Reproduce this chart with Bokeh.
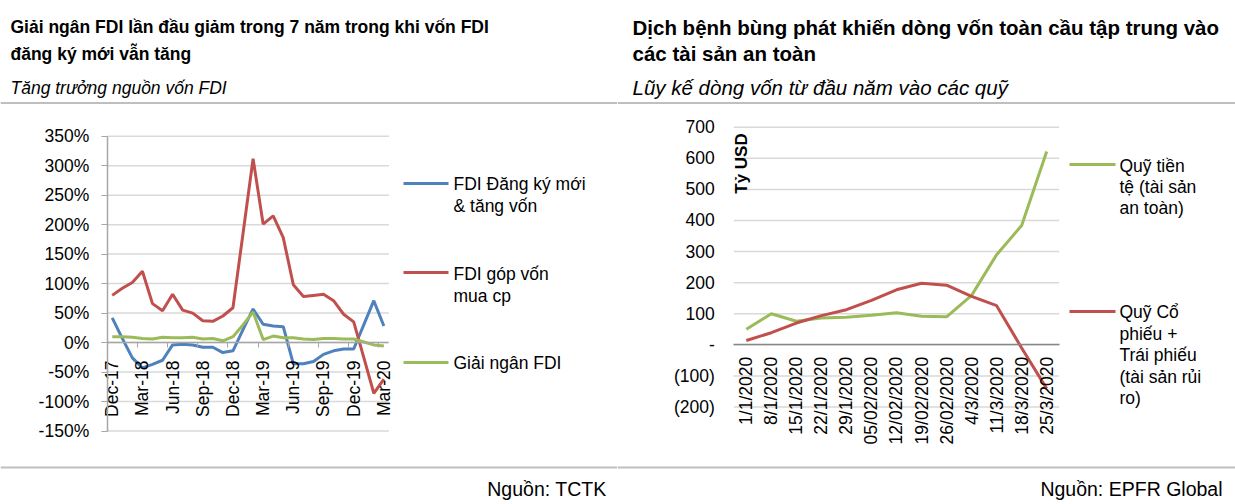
import math
from bokeh.plotting import figure
from bokeh.layouts import row
from bokeh.models import FixedTicker, Label, BoxAnnotation, PolyAnnotation
from bokeh.embed import file_html
from bokeh.resources import INLINE

FONT = "Liberation Sans"
BLUE, RED, GREEN = "#4F81BD", "#C0504D", "#9BBB59"

# left chart: monthly growth, Dec-17 .. Mar-20 (%)
months = ["Dec-17", "Jan-18", "Feb-18", "Mar-18", "Apr-18", "May-18", "Jun-18",
          "Jul-18", "Aug-18", "Sep-18", "Oct-18", "Nov-18", "Dec-18", "Jan-19",
          "Feb-19", "Mar-19", "Apr-19", "May-19", "Jun-19", "Jul-19", "Aug-19",
          "Sep-19", "Oct-19", "Nov-19", "Dec-19", "Jan-20", "Feb-20", "Mar-20"]
fdi_dang_ky = [42, 7, -26, -43, -37, -30, -4, -3, -4, -8, -8, -17, -14, 22,
               57, 31, 28, 27, -36, -36, -32, -20, -14, -11, -11, 30, 71, 28]
fdi_gop_von = [80, 92, 102, 121, 66, 54, 82, 55, 50, 37, 36, 45, 59, 185,
               312, 201, 215, 178, 98, 78, 80, 82, 71, 48, 35, -25, -86, -62]
giai_ngan = [10, 10, 9, 7, 6, 9, 8, 8, 9, 6, 7, 3, 10, 30,
             52, 5, 11, 8, 8, 6, 5, 7, 7, 6, 6, 1, -4, -6]
pct_ticks = [-150, -100, -50, 0, 50, 100, 150, 200, 250, 300, 350]

# right chart: cumulative flows since start of year (bn USD)
dates = ["1/1/2020", "8/1/2020", "15/1/2020", "22/1/2020", "29/1/2020",
         "05/02/2020", "12/02/2020", "19/02/2020", "26/02/2020", "4/3/2020",
         "11/3/2020", "18/3/2020", "25/3/2020"]
quy_tien_te = [50, 100, 76, 86, 89, 95, 103, 92, 90, 159, 290, 384, 622]
quy_co_phieu = [14, 39, 70, 94, 113, 143, 177, 198, 192, 156, 126, -10, -141]
usd_ticks = [-200, -100, 0, 100, 200, 300, 400, 500, 600, 700]

H = 504


def span_range(lo, hi, px_lo, px_hi, total):
    # data range so that lo..hi lands on pixels px_lo..px_hi of a frame `total` wide
    k = (hi - lo) / (px_hi - px_lo)
    return (lo - px_lo * k, hi + (total - px_hi) * k)


def make_panel(w, xr, yr):
    p = figure(width=w, height=H, x_range=xr, y_range=yr,
               output_backend="svg", toolbar_location=None,
               min_border=0, min_border_left=0, min_border_right=0,
               min_border_top=0, min_border_bottom=0)
    p.outline_line_color = None
    p.grid.visible = False
    for ax in (p.xaxis, p.yaxis):
        ax.major_label_text_font = FONT
        ax.major_label_text_font_size = "17.5px"
        ax.major_label_text_color = "black"
        ax.minor_tick_line_color = None
    return p


def text(p, x0, x, y, s, size="17.5px", style="normal", align="left",
         baseline="middle", angle=0.0):
    # x, y are pixels of the page; x0 is the panel's left edge
    p.add_layout(Label(x=x - x0, y=y, x_units="canvas", y_units="canvas",
                       text=s, text_font=FONT, text_font_size=size,
                       text_font_style=style, text_align=align,
                       text_baseline=baseline, angle=angle, text_color="black"))


def hrule(p, y, w):
    p.add_layout(BoxAnnotation(left=0, right=w, top=y - 1, bottom=y + 1,
                               left_units="canvas", right_units="canvas",
                               top_units="canvas", bottom_units="canvas",
                               fill_color="#BFBFBF", fill_alpha=1, line_color=None))


def key(p, x0, xa, xb, y, color):
    p.add_layout(PolyAnnotation(xs=[xa - x0, xb - x0], ys=[y, y],
                                xs_units="canvas", ys_units="canvas",
                                line_color=color, line_alpha=1, line_width=3,
                                fill_alpha=0))


# ---- left panel (page x 0..617)
W1 = 617
x_lo, x_hi = -0.5, len(months) - 0.5
p1 = make_panel(W1, span_range(x_lo, x_hi, 106.7, 388.4, W1),
                span_range(350, -150, 135.7, 430.5, H)[::-1])
p1.segment(x0=x_lo, x1=x_hi, y0=pct_ticks, y1=pct_ticks,
           line_color="#D9D9D9", line_width=1.5)

p1.yaxis.fixed_location = x_lo
p1.yaxis.bounds = (-150, 350)
p1.yaxis.ticker = FixedTicker(ticks=pct_ticks)
p1.yaxis.major_label_overrides = {t: f"{t}%" for t in pct_ticks}
p1.yaxis.axis_line_color = "#A6A6A6"
p1.yaxis.axis_line_width = 1.5
p1.yaxis.major_tick_line_color = "#A6A6A6"
p1.yaxis.major_tick_in = 0
p1.yaxis.major_tick_out = 6
p1.yaxis.major_label_standoff = 12

tick_idx = list(range(0, len(months), 3))
p1.xaxis.fixed_location = 0
p1.xaxis.bounds = (x_lo, x_hi)
p1.xaxis.ticker = FixedTicker(ticks=tick_idx, minor_ticks=[i + 2.5 for i in tick_idx[:-1]])
p1.xaxis.major_label_overrides = {i: months[i] for i in tick_idx}
p1.xaxis.major_label_orientation = math.pi / 2
p1.xaxis.axis_line_color = "#A6A6A6"
p1.xaxis.axis_line_width = 1.5
p1.xaxis.major_tick_line_color = None
p1.xaxis.minor_tick_line_color = "#A6A6A6"
p1.xaxis.minor_tick_in = 0
p1.xaxis.minor_tick_out = 5
p1.xaxis.major_label_standoff = 12

x1 = list(range(len(months)))
p1.line(x1, fdi_dang_ky, line_color=BLUE, line_width=3)
p1.line(x1, fdi_gop_von, line_color=RED, line_width=3)
p1.line(x1, giai_ngan, line_color=GREEN, line_width=3)

hrule(p1, 102.5, W1)
hrule(p1, 467, W1)
text(p1, 0, 10, 26.7, "Giải ngân FDI lần đầu giảm trong 7 năm trong khi vốn FDI",
     size="17.5px", style="bold", baseline="alphabetic")
text(p1, 0, 10, 53.3, "đăng ký mới vẫn tăng", size="17.5px", style="bold",
     baseline="alphabetic")
text(p1, 0, 10, 87.3, "Tăng trưởng nguồn vốn FDI", size="17.5px", style="italic",
     baseline="alphabetic")
key(p1, 0, 403, 448, 183, BLUE)
text(p1, 0, 453, 183, "FDI Đăng ký mới")
text(p1, 0, 453, 205, "& tăng vốn")
key(p1, 0, 403, 448, 272, RED)
text(p1, 0, 453, 273, "FDI góp vốn")
text(p1, 0, 453, 295, "mua cp")
key(p1, 0, 403, 448, 362, GREEN)
text(p1, 0, 453, 362, "Giải ngân FDI")
text(p1, 0, 606, 488, "Nguồn: TCTK", size="19.5px", align="right")

# ---- right panel (page x 617..1235)
W2 = 618
X2 = 617
x_lo2, x_hi2 = -0.5, len(dates) - 0.5
p2 = make_panel(W2, span_range(x_lo2, x_hi2, 733.3 - X2, 1058.7 - X2, W2),
                span_range(700, -200, 126.7, 406.5, H)[::-1])
p2.segment(x0=x_lo2, x1=x_hi2, y0=usd_ticks, y1=usd_ticks,
           line_color="#D9D9D9", line_width=1.5)

p2.yaxis.fixed_location = x_lo2
p2.yaxis.ticker = FixedTicker(ticks=usd_ticks)
p2.yaxis.major_label_overrides = {t: ("-" if t == 0 else f"({-t})" if t < 0 else str(t))
                                  for t in usd_ticks}
p2.yaxis.axis_line_color = None
p2.yaxis.major_tick_line_color = None
p2.yaxis.major_tick_out = 0
p2.yaxis.major_tick_in = 0
p2.yaxis.major_label_standoff = 19

x2 = list(range(len(dates)))
p2.xaxis.fixed_location = 0
p2.xaxis.bounds = (x_lo2, x_hi2)
p2.xaxis.ticker = FixedTicker(ticks=x2)
p2.xaxis.major_label_overrides = {i: d for i, d in enumerate(dates)}
p2.xaxis.major_label_orientation = math.pi / 2
p2.xaxis.axis_line_color = "#868686"
p2.xaxis.axis_line_width = 1.5
p2.xaxis.major_tick_line_color = None
p2.xaxis.major_tick_out = 0
p2.xaxis.major_tick_in = 0
p2.xaxis.major_label_standoff = 12

p2.line(x2, quy_tien_te, line_color=GREEN, line_width=3)
p2.line(x2, quy_co_phieu, line_color=RED, line_width=3)

hrule(p2, 102.5, W2)
hrule(p2, 467, W2)
text(p2, X2, 632, 26.7, "Dịch bệnh bùng phát khiến dòng vốn toàn cầu tập trung vào",
     size="20.5px", style="bold", baseline="alphabetic")
text(p2, X2, 632, 53.3, "các tài sản an toàn", size="20.5px", style="bold",
     baseline="alphabetic")
text(p2, X2, 632, 87.3, "Lũy kế dòng vốn từ đầu năm vào các quỹ", size="20.5px",
     style="italic", baseline="alphabetic")
text(p2, X2, 741, 163, "Tỷ USD", size="17px", style="bold", align="center",
     angle=math.pi / 2)
key(p2, X2, 1069, 1115, 164, GREEN)
text(p2, X2, 1119, 165, "Quỹ tiền")
text(p2, X2, 1119, 186, "tệ (tài sản")
text(p2, X2, 1119, 207, "an toàn)")
key(p2, X2, 1069, 1115, 311, RED)
text(p2, X2, 1119, 311, "Quỹ Cổ")
text(p2, X2, 1119, 333, "phiếu +")
text(p2, X2, 1119, 354, "Trái phiếu")
text(p2, X2, 1119, 376, "(tài sản rủi")
text(p2, X2, 1119, 397, "ro)")
text(p2, X2, 1222, 488, "Nguồn: EPFR Global", size="19.5px", align="right")

open("out.html", "w").write(file_html(row(p1, p2), INLINE))
